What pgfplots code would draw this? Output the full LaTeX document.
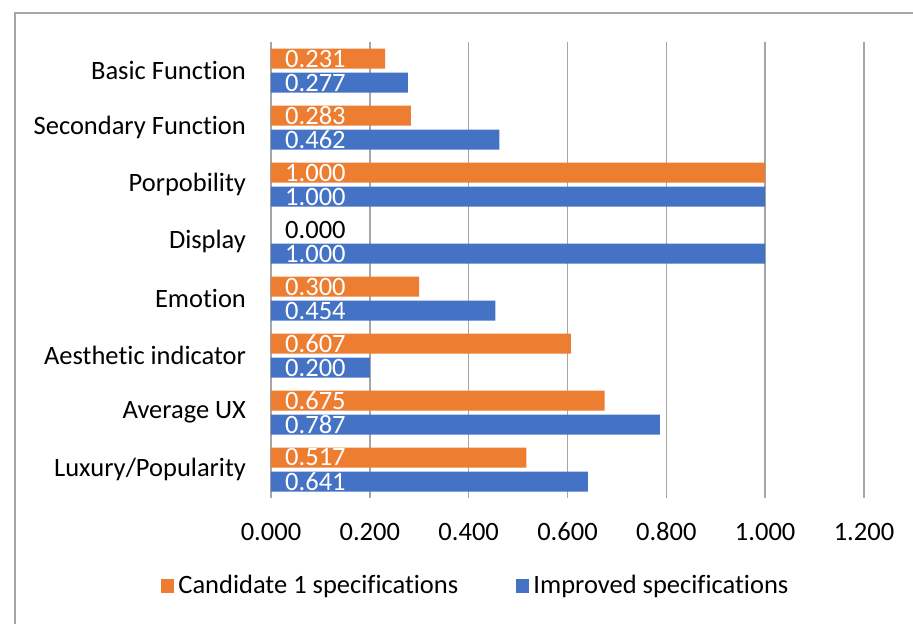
\documentclass[border=0pt]{standalone}
\usepackage{fontspec}
\setmainfont{Carlito}[Ligatures=NoCommon, Contextuals=NoAlternate]
\usepackage{pgfplots}
\pgfplotsset{compat=1.18}
\usepackage{pgfplotstable}
\definecolor{corange}{HTML}{ED7D31}
\definecolor{cblue}{HTML}{4472C4}
\definecolor{cgrid}{HTML}{A6A6A6}
\definecolor{cborder}{HTML}{A6A6A6}
\newcommand\cf{\fontsize{13.25bp}{15.9bp}\selectfont}

\pgfplotstableread{
pos cand impr
7 0.231 0.277
6 0.283 0.462
5 1.000 1.000
4 0.000 1.000
3 0.300 0.454
2 0.607 0.200
1 0.675 0.787
0 0.517 0.641
}\data

\begin{document}
\begin{tikzpicture}
\path[use as bounding box] (-135.5bp,-63bp) rectangle (321bp,249bp);
\draw[cborder, line width=0.75bp] (-128bp,-63bp) -- (-128bp,242.5bp) -- (321bp,242.5bp);
\begin{axis}[
  at={(0,0)}, anchor=south west,
  scale only axis, width=296.5bp, height=228bp,
  xmin=0, xmax=1.2, ymin=-0.5, ymax=7.5,
  xtick={0,0.2,0.4,0.6,0.8,1.0,1.2},
  ytick={0,1,2,3,4,5,6,7},
  yticklabels={Luxury/Popularity, Average UX, Aesthetic indicator, Emotion, Display, Porpobility, Secondary Function, Basic Function},
  axis line style={draw=none},
  xmajorgrids, grid style={cgrid, line width=0.75bp},
  major tick length=0,
  font=\cf,
  /pgf/number format/assume math mode=true,
  xticklabel style={/pgf/number format/.cd, fixed, fixed zerofill, precision=3, /tikz/.cd,
    text height=9bp, text depth=0bp, yshift=-8.5bp},
  yticklabel style={xshift=-9bp},
  legend style={draw=none, fill=none, font=\cf, legend columns=2,
    at={(0.347,-0.193)}, anchor=center,
    /tikz/every even column/.append style={column sep=27bp}},
  bar width=10bp,
  clip=false,
]
\addplot[xbar, fill=corange, draw=none, bar shift=6bp,
  legend image code/.code={\fill[corange] (0bp,-3.3bp) rectangle (6.6bp,3.3bp);}]
  table[x=cand, y=pos]{\data};
\addlegendentry{Candidate 1 specifications}
\addplot[xbar, fill=cblue, draw=none, bar shift=-6bp,
  legend image code/.code={\fill[cblue] (0bp,-3.3bp) rectangle (6.6bp,3.3bp);}]
  table[x=impr, y=pos]{\data};
\addlegendentry{Improved specifications}
% data labels at the bar bases
\addplot[xbar, draw=none, fill=none, bar shift=6bp, forget plot,
  point meta=\thisrow{cand},
  nodes near coords={\pgfmathprintnumber[fixed, fixed zerofill, precision=3]{\pgfplotspointmeta}},
  every node near coord/.append style={anchor=west, xshift=3.6bp, yshift=6bp, font=\cf, text=white}]
  table[x expr=0, y=pos]{\data};
\addplot[xbar, draw=none, fill=none, bar shift=-6bp, forget plot,
  point meta=\thisrow{impr},
  nodes near coords={\pgfmathprintnumber[fixed, fixed zerofill, precision=3]{\pgfplotspointmeta}},
  every node near coord/.append style={anchor=west, xshift=3.6bp, yshift=-6bp, font=\cf, text=white}]
  table[x expr=0, y=pos]{\data};
% zero-valued label shown in black
\addplot[xbar, draw=none, fill=none, bar shift=6bp, forget plot,
  restrict x to domain=-0.001:0.001,
  point meta=\thisrow{cand},
  nodes near coords={\pgfmathprintnumber[fixed, fixed zerofill, precision=3]{\pgfplotspointmeta}},
  every node near coord/.append style={anchor=west, xshift=3.6bp, yshift=6bp, font=\cf, text=black}]
  table[x=cand, y=pos]{\data};
\end{axis}
\end{tikzpicture}
\end{document}
